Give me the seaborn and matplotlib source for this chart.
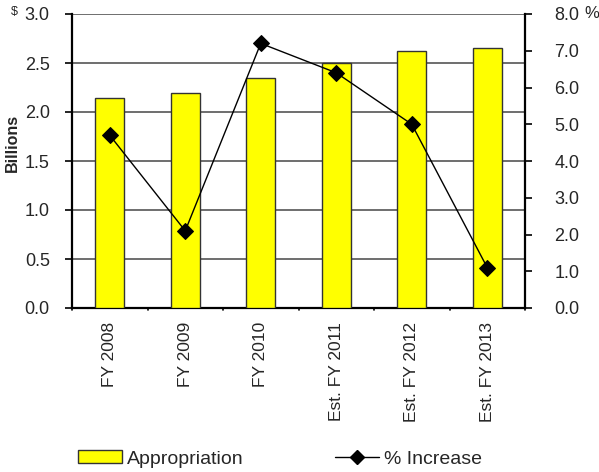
import matplotlib
matplotlib.use("Agg")
import matplotlib.pyplot as plt
from matplotlib.lines import Line2D
from matplotlib.patches import Patch
import seaborn as sns
import pandas as pd

# Appropriations by fiscal year (billions of dollars) and year-over-year change (%)
years = ["FY 2008", "FY 2009", "FY 2010", "Est. FY 2011", "Est. FY 2012", "Est. FY 2013"]
appropriation = [2.14, 2.19, 2.35, 2.50, 2.625, 2.655]
pct_increase = [4.7, 2.1, 7.2, 6.4, 5.0, 1.1]

df = pd.DataFrame({"year": years, "appropriation": appropriation, "pct": pct_increase})

sns.set_style("white")
plt.rcParams["font.family"] = ["Liberation Sans", "DejaVu Sans"]

fig = plt.figure(figsize=(5.99, 4.72), dpi=100)
ax = fig.add_axes([72 / 599, 1 - 308 / 472, (525 - 72) / 599, (308 - 14) / 472])

sns.barplot(data=df, x="year", y="appropriation", color="#FFFF00", saturation=1,
            edgecolor="#333333", linewidth=1.0, width=0.38, ax=ax, zorder=3)

ax.set_ylim(0, 3.0)
ax.set_yticks([0, 0.5, 1.0, 1.5, 2.0, 2.5, 3.0])
ax.set_yticklabels([f"{v:.1f}" for v in [0, 0.5, 1.0, 1.5, 2.0, 2.5, 3.0]], fontsize=13)
ax.set_xlim(-0.5, len(years) - 0.5)
ax.set_xticks(range(len(years)))
ax.set_xticklabels(years, rotation=90, fontsize=12.5, va="top")
ax.tick_params(axis="x", length=0, pad=10)
ax.tick_params(axis="y", direction="out", length=5, width=1.2, color="black", left=True, pad=11)
# category separators on the x axis
for b in [i - 0.5 for i in range(len(years) + 1)]:
    ax.plot([b, b], [0, -0.025], color="black", lw=1.2, clip_on=False, transform=ax.transData)
ax.set_xlabel("")
ax.set_ylabel("")
ax.yaxis.grid(True, color="#555555", lw=1.2, zorder=0)
ax.set_axisbelow(True)
for s in ["left", "bottom"]:
    ax.spines[s].set_color("black")
    ax.spines[s].set_linewidth(1.6)
ax.spines["top"].set_visible(False)
ax.spines["right"].set_visible(False)

ax2 = ax.twinx()
sns.lineplot(data=df, x="year", y="pct", color="black", lw=1.0, marker="D",
             markersize=8, markeredgecolor="black", ax=ax2, sort=False, zorder=5)
ax2.set_ylim(0, 8.0)
ax2.set_yticks(range(0, 9))
ax2.set_yticklabels([f"{v:.1f}" for v in range(0, 9)], fontsize=13)
ax2.tick_params(axis="y", direction="out", length=5, width=1.2, color="black", right=True, pad=16)
ax2.set_ylabel("")
ax2.set_xlabel("")
ax2.spines["right"].set_color("black")
ax2.spines["right"].set_linewidth(1.6)
for s in ["top", "left", "bottom"]:
    ax2.spines[s].set_visible(False)

fig.text(12 / 599, 1 - 143 / 472, "Billions", fontsize=11.5, fontweight="bold",
         rotation=90, ha="center", va="center")
fig.text(14 / 599, 1 - 12 / 472, "$", fontsize=9, ha="center", va="center")
fig.text(584 / 599, 1 - 13 / 472, "%", fontsize=12, ha="left", va="center")

handles = [
    Patch(facecolor="#FFFF00", edgecolor="#333333", linewidth=1.0, label="Appropriation"),
    Line2D([0], [0], color="black", lw=1.0, marker="D", markersize=7, label="% Increase"),
]
fig.legend(handles=handles, loc="center", bbox_to_anchor=(280 / 599, 1 - 459 / 472), ncol=2,
           frameon=False, fontsize=14, handlelength=2.25, handletextpad=0.25,
           columnspacing=4.7, handleheight=0.6)

fig.savefig("out.png", dpi=100)
